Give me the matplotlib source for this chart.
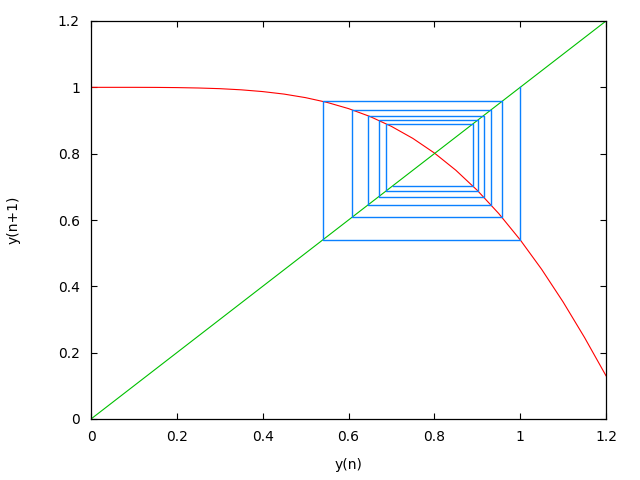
import matplotlib
matplotlib.use("Agg")
import matplotlib.pyplot as plt

# curve y(n+1)
curve_x = [0.0, 0.05, 0.1, 0.15, 0.2, 0.25, 0.3, 0.35, 0.4, 0.45, 0.5, 0.55,
           0.6, 0.65, 0.7, 0.75, 0.8, 0.85, 0.9, 0.95, 1.0, 1.05, 1.1, 1.15, 1.2]
curve_y = [1.0, 1.0, 1.0, 0.9998, 0.9992, 0.998, 0.996, 0.9925, 0.9872, 0.9796,
           0.9689, 0.9546, 0.9359, 0.9121, 0.8823, 0.846, 0.8021, 0.7502, 0.6895,
           0.6196, 0.5403, 0.4514, 0.353, 0.2457, 0.1304]

# diagonal y(n+1) = y(n)
diag = [0.0, 1.2]

# cobweb iterates
iterates = [1.0, 0.540, 0.958, 0.608, 0.932, 0.645, 0.915, 0.670, 0.901,
            0.688, 0.890, 0.703]

ticks = [0, 0.2, 0.4, 0.6, 0.8, 1.0, 1.2]
tick_labels = ["0", "0.2", "0.4", "0.6", "0.8", "1", "1.2"]

# staircase path between diagonal and curve
web_x = [iterates[0]]
web_y = [iterates[0]]
for a, b in zip(iterates[:-1], iterates[1:]):
    web_x += [a, b]
    web_y += [b, b]

fig = plt.figure(figsize=(6.4, 4.8), dpi=100)
ax = fig.add_axes([91 / 640, 1 - 419 / 480, (606 - 91) / 640, (419 - 21) / 480])

ax.plot(curve_x, curve_y, color="#ff0000", lw=0.8)
ax.plot(diag, diag, color="#00c000", lw=0.8)
ax.plot(web_x, web_y, color="#0a80ff", lw=1.0)

ax.set_xlim(0, 1.2)
ax.set_ylim(0, 1.2)
ax.set_xticks(ticks)
ax.set_xticklabels(tick_labels)
ax.set_yticks(ticks)
ax.set_yticklabels(tick_labels)
ax.tick_params(direction="in", top=True, right=True, length=4, width=0.8,
               labelsize=10, pad=8, colors="#000000")
for s in ax.spines.values():
    s.set_linewidth(0.9)

ax.set_xlabel("y(n)", fontsize=10, labelpad=10)
ax.set_ylabel("y(n+1)", fontsize=10, labelpad=27)

fig.savefig("out.png", dpi=100)
